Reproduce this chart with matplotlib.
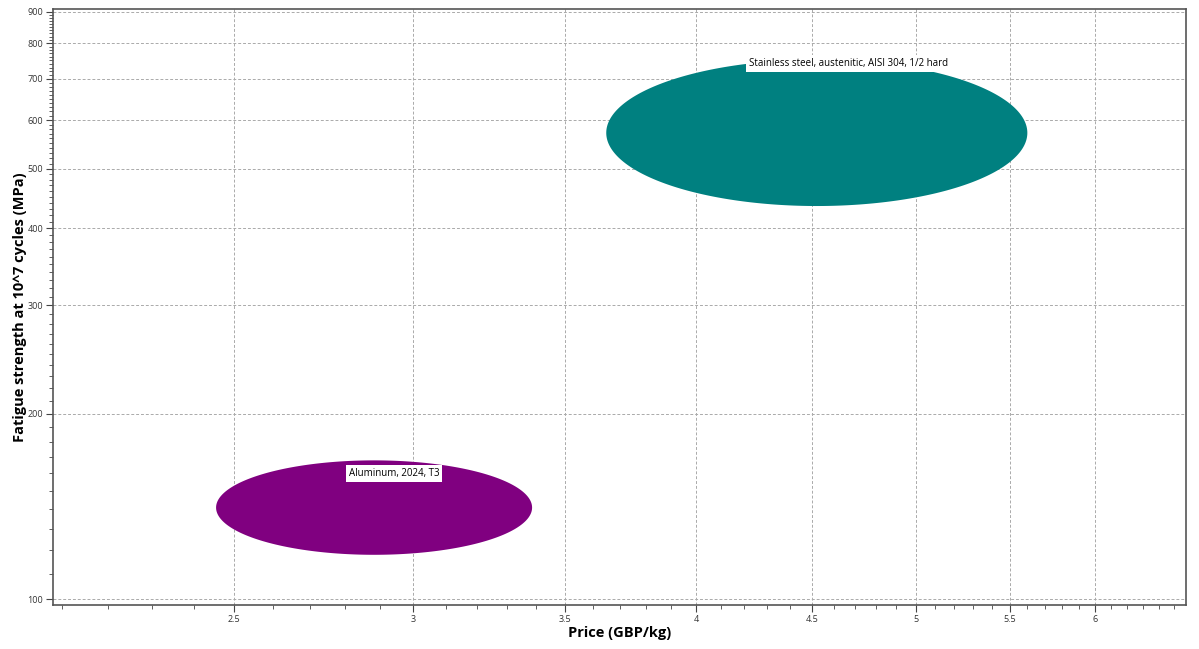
import numpy as np
import matplotlib
matplotlib.use("Agg")
from matplotlib import pyplot as plt
from matplotlib.ticker import FixedLocator, NullFormatter

plt.rcParams["font.family"] = ["Open Sans", "DejaVu Sans"]

materials = ["Stainless steel, austenitic, AISI 304, 1/2 hard", "Aluminum, 2024, T3"]
price_low = [3.65, 2.455]
price_high = [5.60, 3.385]
fatigue_low = [435, 118]
fatigue_high = [752, 168]
colors = ["#008080", "#800080"]
label_pos = [(4.22, 741), (2.81, 160)]

x_ticks = [2.5, 3, 3.5, 4, 4.5, 5, 5.5, 6]
y_ticks = [100, 200, 300, 400, 500, 600, 700, 800, 900]

fig = plt.figure(figsize=(11.99, 6.49), dpi=100)
ax = fig.add_axes([53 / 1199, 1 - 605 / 649, (1186 - 53) / 1199, (605 - 9) / 649])
ax.set_xscale("log")
ax.set_yscale("log")
ax.set_xlim(2.08, 6.58)
ax.set_ylim(97.8, 909)

# ellipses drawn in log space so they look round on log axes
t = np.linspace(0, 2 * np.pi, 300)
for i in range(len(materials)):
    lx0, lx1 = np.log10(price_low[i]), np.log10(price_high[i])
    ly0, ly1 = np.log10(fatigue_low[i]), np.log10(fatigue_high[i])
    cx, cy = (lx0 + lx1) / 2, (ly0 + ly1) / 2
    rx, ry = (lx1 - lx0) / 2, (ly1 - ly0) / 2
    xs = 10 ** (cx + rx * np.cos(t))
    ys = 10 ** (cy + ry * np.sin(t))
    ax.fill(xs, ys, color=colors[i], lw=0, zorder=2)
    tx, ty = label_pos[i]
    ax.text(tx, ty, materials[i], fontsize=7, ha="left", va="center", zorder=4,
            bbox=dict(boxstyle="square,pad=0.3", fc="white", ec="none"))

ax.xaxis.set_major_locator(FixedLocator(x_ticks))
ax.xaxis.set_minor_locator(FixedLocator(np.arange(2.1, 6.6, 0.1)))
ax.yaxis.set_major_locator(FixedLocator(y_ticks))
ax.yaxis.set_minor_locator(FixedLocator(np.arange(100, 910, 10)))
ax.set_xticklabels([f"{v:g}" for v in x_ticks])
ax.set_yticklabels([str(v) for v in y_ticks])
ax.xaxis.set_minor_formatter(NullFormatter())
ax.yaxis.set_minor_formatter(NullFormatter())
ax.tick_params(which="major", length=5, width=0.8, color="#444444", labelsize=6.5,
               labelcolor="#333333", pad=2)
ax.tick_params(which="minor", length=3, width=0.6, color="#444444")

ax.grid(True, which="major", ls=(0, (3, 2)), color="#aaaaaa", lw=0.7, zorder=1)
ax.set_axisbelow(True)
for s in ax.spines.values():
    s.set_color("#555555")
    s.set_linewidth(1.2)

ax.set_xlabel("Price (GBP/kg)", fontsize=10.5, fontweight="bold", labelpad=2)
ax.set_ylabel("Fatigue strength at 10^7 cycles (MPa)", fontsize=10.5, fontweight="bold", labelpad=0.5)

fig.savefig("out.png", dpi=100)
